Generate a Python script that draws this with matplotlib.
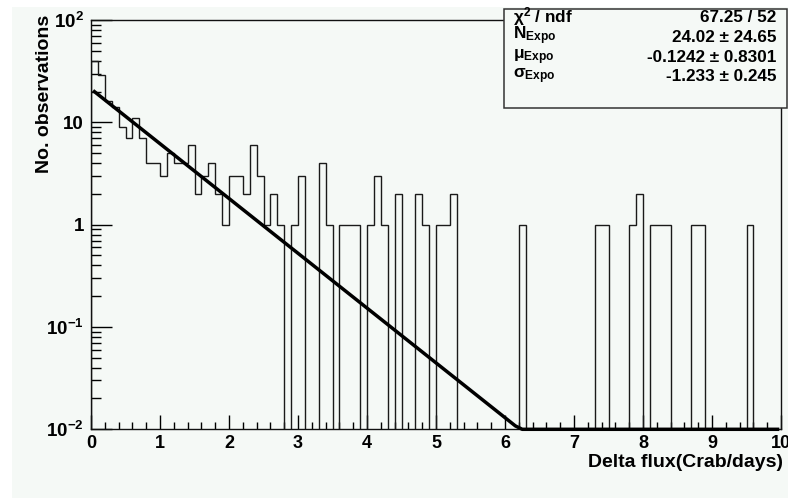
import matplotlib
matplotlib.use("Agg")
import matplotlib.pyplot as plt
from matplotlib.patches import Rectangle
from matplotlib.ticker import FixedLocator, MultipleLocator, NullFormatter, LogLocator
import numpy as np

plt.rcParams["font.family"] = ["Liberation Sans", "DejaVu Sans"]
plt.rcParams["font.weight"] = "bold"
plt.rcParams["mathtext.fontset"] = "custom"
plt.rcParams["mathtext.rm"] = "Liberation Sans:bold"
plt.rcParams["mathtext.bf"] = "Liberation Sans:bold"
plt.rcParams["mathtext.it"] = "Liberation Sans:bold"
plt.rcParams["mathtext.default"] = "regular"

BG = "#f5f9f6"

# ------------------------------------------------------------
# data: 100 bins of 0.1 in Delta flux, counts per bin
# ------------------------------------------------------------
bin_edges = np.round(np.arange(0, 10.01, 0.1), 2)
counts = [40, 29, 16, 14, 9, 7, 11, 7, 4, 4,
          3, 5, 4, 4, 6, 2, 3, 4, 2, 1,
          3, 3, 2, 6, 3, 1, 2, 1, 0, 1,
          3, 0, 0, 4, 1, 0, 1, 1, 1, 0,
          1, 3, 1, 0, 2, 0, 0, 2, 1, 0,
          1, 1, 2, 0, 0, 0, 0, 0, 0, 0,
          0, 0, 1, 0, 0, 0, 0, 0, 0, 0,
          0, 0, 0, 1, 1, 0, 0, 0, 1, 2,
          0, 1, 1, 1, 0, 0, 0, 1, 1, 0,
          0, 0, 0, 0, 0, 1, 0, 0, 0, 0]

# fit parameters from the stats box
chi2_ndf = "67.25 / 52"
fit_N, fit_N_err = 24.02, 24.65
fit_mu, fit_mu_err = -0.1242, 0.8301
fit_sigma, fit_sigma_err = -1.233, 0.245
fit_range = (0.05, 9.95)

ytick_vals = [1e-2, 1e-1, 1, 10, 100]
ytick_labels = [r"$10^{-2}$", r"$10^{-1}$", "1", "10", r"$10^{2}$"]

# ------------------------------------------------------------
fig = plt.figure(figsize=(7.88, 4.98), dpi=100)
fig.patch.set_facecolor("white")
fig.patches.append(Rectangle((12 / 788, 0), 1, 1 - 7 / 498, transform=fig.transFigure,
                             facecolor=BG, edgecolor="none", zorder=-10))

ax = fig.add_axes([91 / 788, (498 - 429.3) / 498, 690 / 788, 409.3 / 498])
ax.set_facecolor("none")
ax.set_yscale("log")
ax.set_xlim(0, 10)
ax.set_ylim(1e-2, 1e2)

vals = np.array(counts, dtype=float)
vals = np.where(vals > 0, vals, 1e-3)  # empty bins drop to the floor
ax.stairs(vals, bin_edges, baseline=1e-3, color="#1a1a1a", lw=1.0, zorder=2)

xf = np.linspace(fit_range[0], fit_range[1], 100)
yf = fit_N * np.exp(fit_mu + fit_sigma * xf)
yf = np.maximum(yf, 1e-2)
ax.plot(xf, yf, color="black", lw=2.5, zorder=3, clip_on=False)

for s in ax.spines.values():
    s.set_linewidth(1.0)
    s.set_color("#111111")

ax.xaxis.set_major_locator(MultipleLocator(1))
ax.xaxis.set_minor_locator(MultipleLocator(0.2))
ax.yaxis.set_major_locator(FixedLocator(ytick_vals))
ax.set_yticklabels(ytick_labels)
ax.yaxis.set_minor_locator(LogLocator(base=10, subs=np.arange(2, 10)))
ax.yaxis.set_minor_formatter(NullFormatter())

ax.tick_params(axis="x", which="major", direction="in", length=10, width=1.0, pad=4,
               labelsize=13, top=False)
ax.tick_params(axis="x", which="minor", direction="in", length=5, width=1.0, top=False)
ax.tick_params(axis="y", which="major", direction="in", length=15, width=1.0, pad=5,
               labelsize=13.5, right=False)
ax.tick_params(axis="y", which="minor", direction="in", length=7.5, width=1.0, right=False)

fig.text(45 / 788, 1 - 15 / 498, "No. observations", rotation=90, ha="center", va="top",
         fontsize=14, fontweight="bold")
fig.text(783 / 788, 1 - 462 / 498, "Delta flux(Crab/days)", ha="right", va="center",
         fontsize=14, fontweight="bold")

# stats box
fig.patches.append(Rectangle((503.5 / 788, 1 - 108.3 / 498), (786.5 - 503.5) / 788,
                             (108.3 - 9) / 498, transform=fig.transFigure,
                             facecolor=BG, edgecolor="#333333", lw=1.1, zorder=5))

rows = [
    (r"$\chi^{2}$ / ndf", chi2_ndf, 22),
    (r"$N_{Expo}$", f"{fit_N:.2f} ± {fit_N_err:.2f}", 42),
    (r"$\mu_{Expo}$", f"{fit_mu:.4f} ± {fit_mu_err:.4f}", 61.5),
    (r"$\sigma_{Expo}$", f"{fit_sigma:.3f} ± {fit_sigma_err:.3f}", 81),
]
for i, (lab, val, yb) in enumerate(rows):
    lb = yb if i == 0 else yb - 2.5
    fig.text(513 / 788, 1 - lb / 498, lab, ha="left", va="baseline",
             fontsize=12.3, fontweight="bold", zorder=6)
    fig.text(776 / 788, 1 - yb / 498, val, ha="right", va="baseline",
             fontsize=12.3, fontweight="bold", zorder=6)

fig.savefig("out.png", dpi=100, facecolor=fig.get_facecolor())
